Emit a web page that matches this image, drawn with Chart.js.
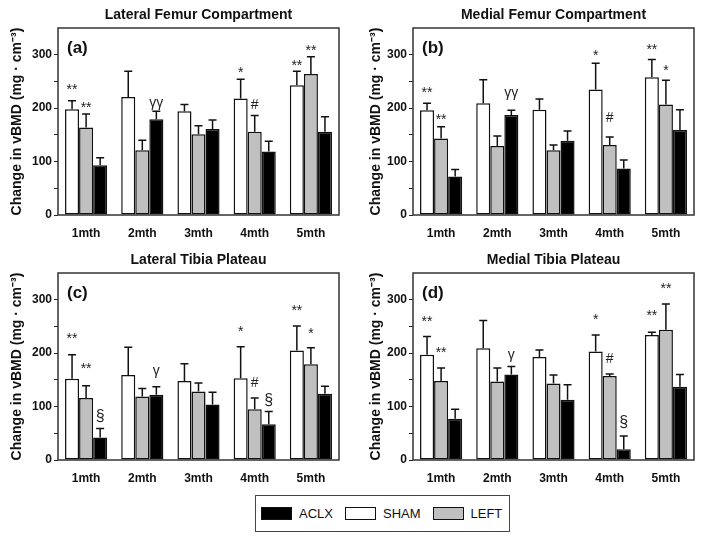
<!DOCTYPE html>
<html>
<head>
<meta charset="utf-8">
<script src="https://cdn.jsdelivr.net/npm/chart.js@4/dist/chart.umd.min.js"></script>
<style>
  body { margin: 0; background: #fff; }
  #pagina { position: relative; width: 704px; height: 540px; }
  #pagina canvas { position: absolute; }
  #legenda {
    position: absolute; left: 255px; top: 495px; width: 255px; height: 37px;
    box-sizing: border-box; border: 1px solid #444;
    display: flex; align-items: center; padding-left: 5px;
    font: 13px "Liberation Sans", Arial, sans-serif; color: #111;
  }
  .item { display: flex; align-items: center; margin-right: 12px; }
  .amostra { width: 31px; height: 13px; box-sizing: border-box; border: 1.5px solid #111; margin-right: 7px; }
</style>
</head>
<body>
<div id="pagina">
  <canvas id="graficoA" width="352" height="240" style="left:0;top:0"></canvas>
  <canvas id="graficoB" width="352" height="240" style="left:352px;top:0"></canvas>
  <canvas id="graficoC" width="352" height="240" style="left:0;top:245px"></canvas>
  <canvas id="graficoD" width="352" height="240" style="left:352px;top:245px"></canvas>
  <div id="legenda">
    <div class="item"><span class="amostra" style="background:#000"></span>ACLX</div>
    <div class="item"><span class="amostra" style="background:#fff"></span>SHAM</div>
    <div class="item"><span class="amostra" style="background:#c0c0c0"></span>LEFT</div>
  </div>
</div>
<script>
const meses = ["1mth", "2mth", "3mth", "4mth", "5mth"];
const ticksY = [0, 100, 200, 300];
const tituloEixoY = "Change in vBMD (mg \u00b7 cm\u207b\u00b3)";

// (a) Lateral Femur Compartment
const shamA = [198, 221, 194, 218, 243];
const shamAErro = [16, 48, 13, 36, 26];
const leftA = [164, 121, 151, 156, 264];
const leftAErro = [25, 19, 16, 30, 32];
const aclxA = [93, 179, 161, 119, 156];
const aclxAErro = [14, 15, 17, 19, 28];

// (b) Medial Femur Compartment
const shamB = [196, 209, 197, 235, 258];
const shamBErro = [13, 44, 20, 49, 33];
const leftB = [143, 129, 121, 131, 207];
const leftBErro = [22, 19, 10, 15, 45];
const aclxB = [72, 187, 139, 87, 159];
const aclxBErro = [13, 9, 18, 16, 38];

// (c) Lateral Tibia Plateau
const shamC = [152, 159, 148, 153, 205];
const shamCErro = [45, 52, 32, 59, 46];
const leftC = [116, 119, 128, 95, 179];
const leftCErro = [23, 15, 16, 21, 31];
const aclxC = [42, 122, 104, 67, 124];
const aclxCErro = [17, 15, 23, 24, 14];

// (d) Medial Tibia Plateau
const shamD = [197, 209, 193, 203, 234];
const shamDErro = [34, 52, 13, 31, 5];
const leftD = [148, 147, 143, 157, 244];
const leftDErro = [24, 25, 16, 4, 48];
const aclxD = [77, 160, 113, 20, 137];
const aclxDErro = [18, 15, 28, 25, 23];

// marcas de significancia: [mes, serie (0 sham, 1 left, 2 aclx), simbolo, nivel]
const marcasA = [[0, 0, "**", 240], [0, 1, "**", 206], [1, 2, "\u03b3\u03b3", 209], [3, 0, "*", 272], [3, 1, "#", 206], [4, 0, "**", 284], [4, 1, "**", 312]];
const marcasB = [[0, 0, "**", 234], [0, 1, "**", 184], [1, 2, "\u03b3\u03b3", 229], [3, 0, "*", 303], [3, 1, "#", 182], [4, 0, "**", 314], [4, 1, "*", 275]];
const marcasC = [[0, 0, "**", 232], [0, 1, "**", 176], [0, 2, "\u00a7", 81], [1, 2, "\u03b3", 166], [3, 0, "*", 244], [3, 1, "#", 144], [3, 2, "\u00a7", 112], [4, 0, "**", 284], [4, 1, "*", 241]];
const marcasD = [[0, 0, "**", 264], [0, 1, "**", 206], [1, 2, "\u03b3", 197], [3, 0, "*", 267], [3, 1, "#", 189], [3, 2, "\u00a7", 70], [4, 0, "**", 275], [4, 1, "**", 325]];

const FONTE = '"Liberation Sans", Arial, sans-serif';
Chart.defaults.font.family = FONTE;
Chart.defaults.color = "#111";

// barras de erro, marcas, moldura e titulos
const painelPlugin = {
  id: "painel",
  afterDatasetsDraw(chart, args, opts) {
    const ctx = chart.ctx;
    const area = chart.chartArea;
    const y = chart.scales.y;

    ctx.save();
    ctx.strokeStyle = "#111";
    ctx.lineWidth = 1.5;
    chart.data.datasets.forEach((ds, i) => {
      chart.getDatasetMeta(i).data.forEach((barra, j) => {
        const topo = y.getPixelForValue(ds.data[j] + ds.erro[j]);
        ctx.beginPath();
        ctx.moveTo(barra.x, barra.y);
        ctx.lineTo(barra.x, topo);
        ctx.moveTo(barra.x - 4, topo);
        ctx.lineTo(barra.x + 4, topo);
        ctx.stroke();
      });
    });

    ctx.fillStyle = "#222";
    ctx.textAlign = "center";
    ctx.textBaseline = "middle";
    opts.marcas.forEach(([mes, serie, simbolo, nivel]) => {
      const barra = chart.getDatasetMeta(serie).data[mes];
      const ajuste = simbolo.startsWith("*") ? 3 : 0;
      ctx.font = (simbolo === "\u00a7" ? "16px " : "14px ") + FONTE;
      ctx.fillText(simbolo, barra.x, y.getPixelForValue(nivel) + ajuste);
    });

    ctx.strokeStyle = "#333";
    ctx.lineWidth = 1.5;
    ctx.strokeRect(area.left, area.top, area.right - area.left, area.bottom - area.top);

    ctx.fillStyle = "#111";
    ctx.font = "bold 14px " + FONTE;
    ctx.fillText(opts.titulo, (area.left + area.right) / 2, area.top - 13);

    ctx.font = "bold 17px " + FONTE;
    ctx.textAlign = "left";
    ctx.fillText(opts.rotulo, area.left + 9, area.top + 20);
    ctx.restore();
  }
};

function criarPainel(id, titulo, rotulo, series, erros, marcas, margemEsq, larguraEixo, margemDir) {
  const cores = ["#ffffff", "#c0c0c0", "#000000"];
  const nomes = ["SHAM", "LEFT", "ACLX"];

  return new Chart(document.getElementById(id), {
    type: "bar",
    data: {
      labels: meses,
      datasets: series.map((dados, i) => ({
        label: nomes[i],
        data: dados,
        erro: erros[i],
        backgroundColor: cores[i],
        borderColor: "#111",
        borderWidth: 1.5,
        borderSkipped: false,
        categoryPercentage: 0.75,
        barPercentage: 1.0
      }))
    },
    options: {
      responsive: false,
      animation: false,
      layout: { padding: { left: margemEsq, right: margemDir, top: 28, bottom: 0 } },
      plugins: {
        legend: { display: false },
        tooltip: { enabled: false },
        painel: { titulo, rotulo, marcas }
      },
      scales: {
        x: {
          grid: { display: false },
          border: { display: false },
          ticks: { font: { size: 12, weight: "bold" }, color: "#111", padding: 3 },
          afterFit: s => { s.height = 25; }
        },
        y: {
          min: 0,
          max: 350,
          border: { display: false },
          grid: {
            drawOnChartArea: false,
            drawTicks: true,
            tickLength: 4,
            color: ctx => (ctx.tick && ctx.tick.value === 350 ? "rgba(0,0,0,0)" : "#222")
          },
          ticks: {
            stepSize: 50,
            autoSkip: false,
            padding: 2,
            font: { size: 12, weight: "bold" },
            color: "#111",
            callback: v => (ticksY.includes(v) ? v : "")
          },
          title: {
            display: true,
            text: tituloEixoY,
            font: { size: 14, weight: "bold" },
            color: "#111",
            padding: { top: 9, bottom: 0 }
          },
          afterFit: s => { s.width = larguraEixo; }
        }
      }
    },
    plugins: [painelPlugin]
  });
}

criarPainel("graficoA", "Lateral Femur Compartment", "(a)",
  [shamA, leftA, aclxA], [shamAErro, leftAErro, aclxAErro], marcasA, 0, 58, 13);
criarPainel("graficoB", "Medial Femur Compartment", "(b)",
  [shamB, leftB, aclxB], [shamBErro, leftBErro, aclxBErro], marcasB, 7, 54, 10);
criarPainel("graficoC", "Lateral Tibia Plateau", "(c)",
  [shamC, leftC, aclxC], [shamCErro, leftCErro, aclxCErro], marcasC, 0, 58, 13);
criarPainel("graficoD", "Medial Tibia Plateau", "(d)",
  [shamD, leftD, aclxD], [shamDErro, leftDErro, aclxDErro], marcasD, 7, 54, 10);
</script>
</body>
</html>
